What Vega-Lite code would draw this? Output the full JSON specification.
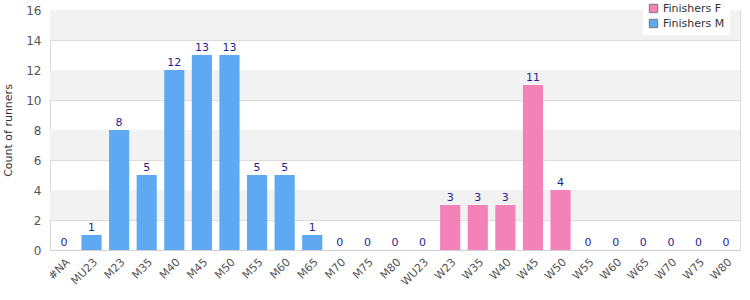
{
  "$schema": "https://vega.github.io/schema/vega-lite/v6.json",
  "width": 690,
  "height": 240,
  "autosize": {"type": "none"},
  "padding": {"left": 50, "top": 10, "right": 10, "bottom": 50},
  "background": "white",
  "config": {
    "font": "DejaVu Sans",
    "view": {"stroke": "#d9d9d9", "strokeWidth": 1}
  },
  "datasets": {
    "runners": [
      {"cat": "#NA", "group": "Finishers M", "count": 0},
      {"cat": "MU23", "group": "Finishers M", "count": 1},
      {"cat": "M23", "group": "Finishers M", "count": 8},
      {"cat": "M35", "group": "Finishers M", "count": 5},
      {"cat": "M40", "group": "Finishers M", "count": 12},
      {"cat": "M45", "group": "Finishers M", "count": 13},
      {"cat": "M50", "group": "Finishers M", "count": 13},
      {"cat": "M55", "group": "Finishers M", "count": 5},
      {"cat": "M60", "group": "Finishers M", "count": 5},
      {"cat": "M65", "group": "Finishers M", "count": 1},
      {"cat": "M70", "group": "Finishers M", "count": 0},
      {"cat": "M75", "group": "Finishers M", "count": 0},
      {"cat": "M80", "group": "Finishers M", "count": 0},
      {"cat": "WU23", "group": "Finishers F", "count": 0},
      {"cat": "W23", "group": "Finishers F", "count": 3},
      {"cat": "W35", "group": "Finishers F", "count": 3},
      {"cat": "W40", "group": "Finishers F", "count": 3},
      {"cat": "W45", "group": "Finishers F", "count": 11},
      {"cat": "W50", "group": "Finishers F", "count": 4},
      {"cat": "W55", "group": "Finishers F", "count": 0},
      {"cat": "W60", "group": "Finishers F", "count": 0},
      {"cat": "W65", "group": "Finishers F", "count": 0},
      {"cat": "W70", "group": "Finishers F", "count": 0},
      {"cat": "W75", "group": "Finishers F", "count": 0},
      {"cat": "W80", "group": "Finishers F", "count": 0}
    ],
    "bands": [
      {"lo": 2, "hi": 4},
      {"lo": 6, "hi": 8},
      {"lo": 10, "hi": 12},
      {"lo": 14, "hi": 16}
    ]
  },
  "layer": [
    {
      "data": {"name": "bands"},
      "mark": {"type": "rect", "color": "#f2f2f2"},
      "encoding": {
        "y": {
          "field": "lo", "type": "quantitative", "scale": {"domain": [0, 16], "nice": false},
          "axis": {
            "title": "Count of runners", "tickCount": 8, "labelOverlap": false, "labelBound": false,
            "titleFontWeight": "normal", "titleFontSize": 11, "titleColor": "#333", "titlePadding": 12,
            "labelFontSize": 12, "labelColor": "#555", "ticks": false,
            "labelPadding": 9, "domain": false, "gridColor": "#dcdcdc"
          }
        },
        "y2": {"field": "hi"}
      }
    },
    {
      "data": {"name": "runners"},
      "layer": [
        {
          "mark": {"type": "bar"},
          "encoding": {
            "x": {
              "field": "cat", "type": "nominal", "sort": null,
              "scale": {"paddingInner": 0.27, "paddingOuter": 0.14},
              "axis": {
                "title": null, "labelAngle": -45, "labelAlign": "right", "labelBaseline": "top",
                "labelFontSize": 11, "labelColor": "#555", "ticks": false, "labelPadding": 6,
                "domainColor": "#d0d0d0", "grid": false
              }
            },
            "y": {
              "field": "count", "type": "quantitative"
            },
            "color": {
              "field": "group", "type": "nominal",
              "scale": {"domain": ["Finishers F", "Finishers M"], "range": ["#f282b8", "#5fa8f2"]},
              "legend": {
                "title": null, "orient": "none", "legendX": 593, "legendY": -12,
                "fillColor": "white", "padding": 5,
                "symbolType": "square", "symbolSize": 70, "symbolStrokeColor": "#777", "symbolStrokeWidth": 1,
                "labelFontSize": 11, "labelColor": "#333", "rowPadding": 2
              }
            }
          }
        },
        {
          "mark": {"type": "text", "dy": -7, "fontSize": 11, "color": "#1f1f99"},
          "encoding": {
            "x": {"field": "cat", "type": "nominal", "sort": null},
            "y": {"field": "count", "type": "quantitative"},
            "text": {"field": "count", "type": "quantitative"}
          }
        }
      ]
    }
  ]
}
